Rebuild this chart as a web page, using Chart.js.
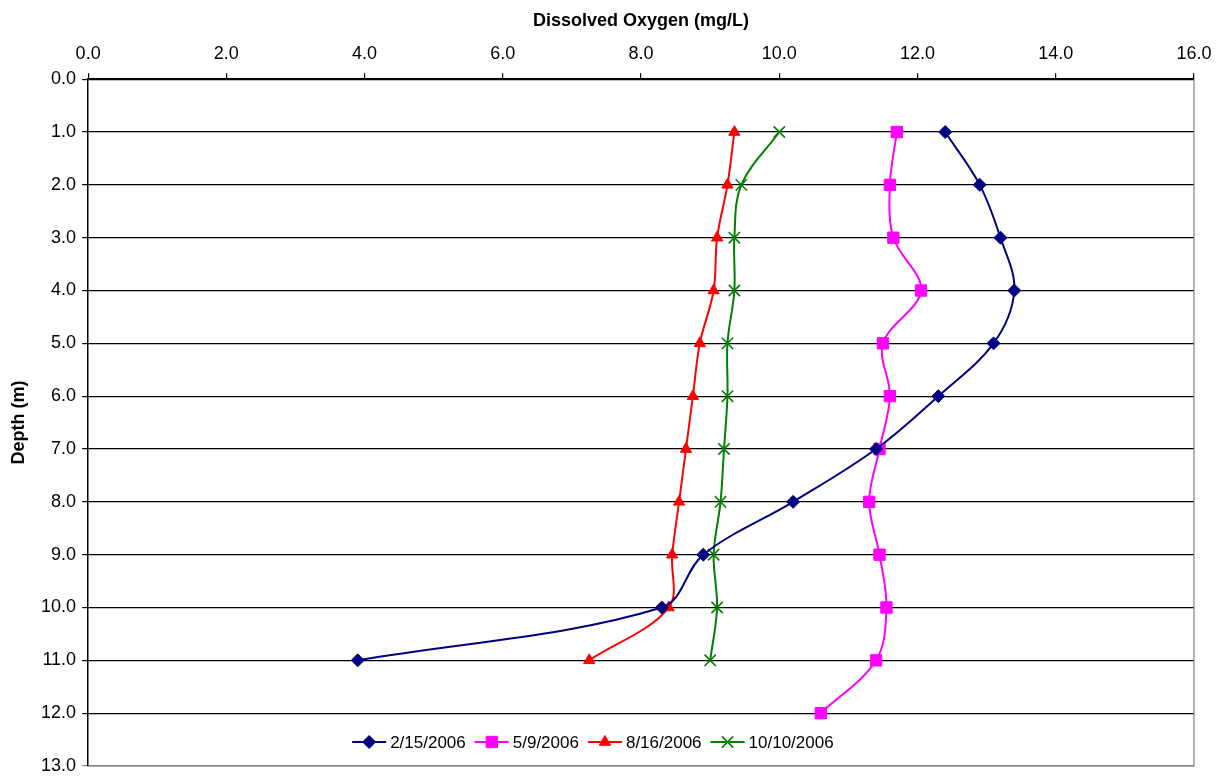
<!DOCTYPE html>
<html>
<head>
<meta charset="utf-8">
<script src="https://cdn.jsdelivr.net/npm/chart.js@4/dist/chart.umd.min.js"></script>
<style>
  html, body { margin: 0; padding: 0; background: #fff; }
  #wrap { width: 1224px; height: 778px; }
</style>
</head>
<body>
<div id="wrap"><canvas id="chart" width="1224" height="778"></canvas></div>
<script>
// depth (m) for each sample
const depths = [1, 2, 3, 4, 5, 6, 7, 8, 9, 10, 11, 12];
// dissolved oxygen (mg/L) per sampling date
const seriesNames = ['2/15/2006', '5/9/2006', '8/16/2006', '10/10/2006'];
const feb15 = [12.4, 12.9, 13.2, 13.4, 13.1, 12.3, 11.4, 10.2, 8.9, 8.3, 3.9];
const may9 = [11.7, 11.6, 11.65, 12.05, 11.5, 11.6, 11.45, 11.3, 11.45, 11.55, 11.4, 10.6];
const aug16 = [9.35, 9.25, 9.1, 9.05, 8.85, 8.75, 8.65, 8.55, 8.45, 8.4, 7.25];
const oct10 = [10.0, 9.45, 9.35, 9.35, 9.25, 9.25, 9.2, 9.15, 9.05, 9.1, 9.0];

const colors = ['#000080', '#FF00FF', '#FF0000', '#008000'];
const markers = ['rectRot', 'rect', 'triangle', 'crossRot'];
const radii = [6.5, 8, 6.5, 8];

const toPoints = vals => vals.map((v, i) => ({ x: v, y: depths[i] }));
const allSeries = [feb15, may9, aug16, oct10];

const datasets = allSeries.map((vals, i) => ({
  label: seriesNames[i],
  data: toPoints(vals),
  borderColor: colors[i],
  backgroundColor: colors[i],
  borderWidth: 2,
  tension: 0.35,
  pointStyle: markers[i],
  pointRadius: radii[i],
  pointBorderWidth: i === 3 ? 1.6 : 1,
  pointHoverRadius: radii[i]
}));

const FONT = 'Liberation Sans, Arial, sans-serif';

// grey right/bottom frame + legend drawn inside the plot area
const framePlugin = {
  id: 'frame',
  afterDatasetsDraw(chart) {
    const { ctx, chartArea: a } = chart;
    ctx.save();
    ctx.strokeStyle = '#808080';
    ctx.lineWidth = 1.2;
    ctx.beginPath();
    ctx.moveTo(a.right, a.top);
    ctx.lineTo(a.right, a.bottom);
    ctx.lineTo(a.left, a.bottom);
    ctx.stroke();

    // legend
    ctx.font = '17px ' + FONT;
    ctx.textBaseline = 'middle';
    let x = a.left + 264;
    const y = a.bottom - 24;
    chart.data.datasets.forEach((ds, i) => {
      ctx.strokeStyle = ds.borderColor;
      ctx.lineWidth = 2;
      ctx.beginPath();
      ctx.moveTo(x, y);
      ctx.lineTo(x + 34, y);
      ctx.stroke();
      ctx.fillStyle = ds.backgroundColor;
      ctx.lineWidth = ds.pointBorderWidth;
      Chart.helpers.drawPoint(ctx, { pointStyle: ds.pointStyle, radius: ds.pointRadius, rotation: 0, borderWidth: ds.pointBorderWidth }, x + 17, y);
      ctx.fillStyle = '#000';
      ctx.fillText(ds.label, x + 38, y + 1);
      x += 38 + ctx.measureText(ds.label).width + 9;
    });
    ctx.restore();
  }
};

new Chart(document.getElementById('chart'), {
  type: 'line',
  data: { datasets },
  plugins: [framePlugin],
  options: {
    responsive: false,
    animation: false,
    layout: { padding: { left: 8.5, right: 30, top: 10, bottom: 12 } },
    plugins: {
      legend: { display: false },
      tooltip: { enabled: false }
    },
    scales: {
      x: {
        type: 'linear',
        position: 'top',
        min: 0,
        max: 16,
        ticks: {
          stepSize: 2,
          color: '#000',
          font: { family: FONT, size: 18 },
          padding: 8,
          callback: v => v.toFixed(1)
        },
        grid: { drawOnChartArea: false, color: '#000', tickLength: 6, lineWidth: 1.2 },
        border: { color: '#000', width: 1.5 },
        title: {
          display: true,
          text: 'Dissolved Oxygen (mg/L)',
          color: '#000',
          font: { family: FONT, size: 18, weight: 'bold' },
          padding: { top: 0, bottom: 4 }
        }
      },
      y: {
        type: 'linear',
        reverse: true,
        min: 0,
        max: 13,
        afterFit: s => { s.paddingTop = 0; s.paddingBottom = 0; },
        ticks: {
          stepSize: 1,
          color: '#000',
          font: { family: FONT, size: 18 },
          padding: 6,
          callback: v => v.toFixed(1)
        },
        grid: {
          color: c => (c.tick && c.tick.value === 13 ? '#808080' : '#000'),
          lineWidth: 1.2,
          tickLength: 6
        },
        border: { color: '#000', width: 1.5 },
        title: {
          display: true,
          text: 'Depth (m)',
          color: '#000',
          font: { family: FONT, size: 18, weight: 'bold' },
          padding: { top: 0, bottom: 5 }
        }
      }
    }
  }
});
</script>
</body>
</html>
